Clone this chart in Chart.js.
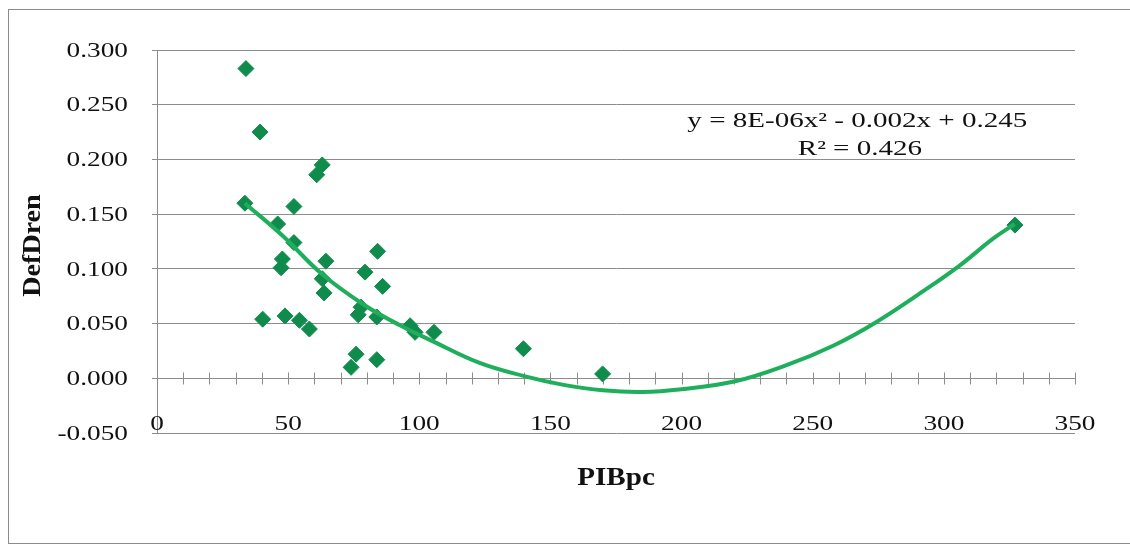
<!DOCTYPE html>
<html lang="es">
<head>
<meta charset="UTF-8">
<title>DefDren vs PIBpc</title>
<script src="https://cdn.jsdelivr.net/npm/chart.js"></script>
<style>
    body { margin: 0; background: #fff; }
    .wrap { position: relative; width: 1130px; height: 547px; }
    .frame {
        position: absolute; left: 8px; top: 9px; width: 1140px; height: 533px;
        border: 1px solid #8c8c8c;
    }
    canvas { position: absolute; left: 0; top: 0; }
</style>
</head>
<body>
<div class="wrap">
    <div class="frame"></div>
    <canvas id="chart" width="1130" height="547"></canvas>
</div>
<script>
// observed points
const pibpc = [33.9, 39.3, 63.0, 60.9, 33.5, 52.2, 46.0, 52.2, 47.8, 47.3, 64.4, 63.0, 63.7,
    84.1, 79.3, 86.0, 77.8, 76.7, 83.8, 40.3, 48.8, 54.3, 58.1, 75.9, 74.0, 83.8,
    96.5, 98.4, 105.6, 139.7, 169.9, 327.1];
const defdren = [0.283, 0.225, 0.195, 0.186, 0.160, 0.157, 0.141, 0.124, 0.109, 0.101, 0.107, 0.091, 0.078,
    0.116, 0.097, 0.084, 0.065, 0.058, 0.056, 0.054, 0.057, 0.053, 0.045, 0.022, 0.010, 0.017,
    0.048, 0.042, 0.042, 0.027, 0.004, 0.140];

// polynomial trendline
const trendX = [33.5, 48, 63, 79, 93, 105, 123, 140, 155, 170, 185, 200, 220, 240, 258, 274, 293, 306, 319, 327];
const trendY = [0.160, 0.130, 0.095, 0.067, 0.048, 0.034, 0.014, 0.002, -0.006, -0.011, -0.0125, -0.010,
    -0.003, 0.012, 0.030, 0.051, 0.081, 0.103, 0.128, 0.141];

const yTicks = [-0.05, 0, 0.05, 0.1, 0.15, 0.2, 0.25, 0.3];
const xTicks = [0, 50, 100, 150, 200, 250, 300, 350];
const eqText = ['y = 8E-06x\u00B2 - 0.002x + 0.245', 'R\u00B2 = 0.426'];
const xTitle = 'PIBpc';
const yTitle = 'DefDren';

const serif = '"Liberation Serif", "Times New Roman", serif';

// the original text is set wide, so stretch it along its own direction
function wideText(ctx, str, x, y, align, baseline, sx, angle) {
    ctx.save();
    ctx.translate(x, y);
    if (angle) ctx.rotate(angle);
    ctx.scale(sx, 1);
    ctx.textAlign = align;
    ctx.textBaseline = baseline;
    ctx.fillText(str, 0, 0);
    ctx.restore();
}

// x axis drawn at y = 0 with small ticks crossing it
const zeroAxis = {
    id: 'zeroAxis',
    beforeDatasetsDraw(chart) {
        const { ctx, scales: { x, y } } = chart;
        const py = Math.round(y.getPixelForValue(0)) + 0.5;
        ctx.save();
        ctx.strokeStyle = '#8c8c8c';
        ctx.lineWidth = 1;
        ctx.beginPath();
        ctx.moveTo(x.getPixelForValue(0), py);
        ctx.lineTo(x.getPixelForValue(350), py);
        for (let v = 10; v <= 350; v += 10) {
            const px = Math.round(x.getPixelForValue(v)) + 0.5;
            ctx.moveTo(px, py - 6);
            ctx.lineTo(px, py + 6);
        }
        ctx.stroke();
        ctx.restore();
    }
};

const textLayer = {
    id: 'textLayer',
    afterDraw(chart) {
        const { ctx, chartArea: a, scales: { x, y } } = chart;
        ctx.save();
        ctx.fillStyle = '#111';

        ctx.font = '22px ' + serif;
        yTicks.forEach(v => wideText(ctx, v.toFixed(3), a.left - 29, y.getPixelForValue(v) + 1, 'right', 'middle', 1.24));
        xTicks.forEach(v => wideText(ctx, String(v), x.getPixelForValue(v), a.bottom - 3, 'center', 'alphabetic', 1.24));

        ctx.font = 'bold 26px ' + serif;
        wideText(ctx, xTitle, (a.left + a.right) / 2, 485, 'center', 'alphabetic', 1.12);
        wideText(ctx, yTitle, 40, (a.top + a.bottom) / 2 + 4, 'center', 'alphabetic', 1.08, -Math.PI / 2);

        ctx.font = '22px ' + serif;
        wideText(ctx, eqText[0], x.getPixelForValue(267), y.getPixelForValue(0.2296), 'center', 'alphabetic', 1.32);
        wideText(ctx, eqText[1], x.getPixelForValue(268), y.getPixelForValue(0.204), 'center', 'alphabetic', 1.32);
        ctx.restore();
    }
};

new Chart(document.getElementById('chart'), {
    type: 'scatter',
    data: {
        datasets: [
            {
                label: 'Polinómica',
                data: trendX.map((v, i) => ({ x: v, y: trendY[i] })),
                showLine: true,
                borderColor: '#1fae5b',
                borderWidth: 4,
                pointRadius: 0,
                tension: 0.4
            },
            {
                label: 'DefDren',
                data: pibpc.map((v, i) => ({ x: v, y: defdren[i] })),
                pointStyle: 'rectRot',
                pointRadius: 8,
                pointBackgroundColor: '#0f8c4c',
                pointBorderColor: '#0f8c4c',
                pointBorderWidth: 1
            }
        ]
    },
    options: {
        responsive: false,
        animation: false,
        layout: { padding: { left: 0, top: 50, right: 55, bottom: 0 } },
        plugins: { legend: { display: false }, tooltip: { enabled: false } },
        scales: {
            x: {
                type: 'linear',
                min: 0, max: 350,
                afterFit(scale) { scale.height = 114; },
                grid: { display: false, drawTicks: false },
                border: { display: false },
                ticks: { display: false, stepSize: 50 }
            },
            y: {
                min: -0.05, max: 0.3,
                afterBuildTicks(scale) { scale.ticks = yTicks.map(v => ({ value: v })); },
                afterFit(scale) { scale.width = 157; },
                grid: { color: '#8c8c8c', lineWidth: 1, tickLength: 5 },
                border: { display: true, color: '#8c8c8c' },
                ticks: { display: false }
            }
        }
    },
    plugins: [zeroAxis, textLayer]
});
</script>
</body>
</html>
